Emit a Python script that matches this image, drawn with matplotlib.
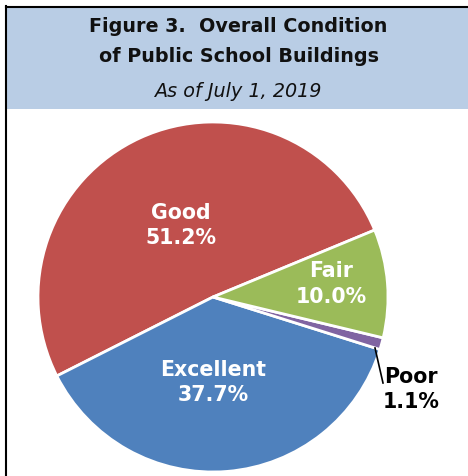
import matplotlib
matplotlib.use("Agg")
import matplotlib.pyplot as plt
from matplotlib.patches import Rectangle
from matplotlib.lines import Line2D

categories = ["Good", "Excellent", "Poor", "Fair"]
values = [51.2, 37.7, 1.1, 10.0]
colors = ["#C0504D", "#4F81BD", "#8064A2", "#9BBB59"]
label_text = ["Good\n51.2%", "Excellent\n37.7%", "Poor\n1.1%", "Fair\n10.0%"]

W, H = 468, 476
fig = plt.figure(figsize=(W / 100, H / 100), dpi=100)
fig.patch.set_facecolor("white")

def fx(px):
    return px / W

def fy(py):
    return 1 - py / H

# header box
fig.patches.append(Rectangle((fx(7), fy(109)), fx(468) - fx(7), fy(7) - fy(109),
                             transform=fig.transFigure, facecolor="#B9CDE5",
                             edgecolor="none", zorder=0))
# border lines
fig.add_artist(Line2D([fx(6), fx(6)], [fy(476), fy(6)], color="black", lw=1.5,
                      transform=fig.transFigure))
fig.add_artist(Line2D([fx(6), fx(468)], [fy(6.5), fy(6.5)], color="black", lw=1.5,
                      transform=fig.transFigure))

tfont = dict(ha="center", va="baseline", fontsize=13.8, family="DejaVu Sans",
             color="#111111")
fig.text(fx(238), fy(32), "Figure 3.  Overall Condition", fontweight="bold", **tfont)
fig.text(fx(239.5), fy(62), "of Public School Buildings", fontweight="bold", **tfont)
fig.text(fx(237.5), fy(97), "As of July 1, 2019", style="italic", **tfont)

# pie axes: center (213, 297), radius 175
cx, cy, r = 213, 297, 175
ax = fig.add_axes([fx(cx - r), fy(cy + r), 2 * r / W, 2 * r / H])
wedges, _ = ax.pie(values, colors=colors, startangle=22.5, counterclock=True,
                   wedgeprops=dict(edgecolor="white", linewidth=2.0))
ax.set_xlim(-1, 1)
ax.set_ylim(-1, 1)
ax.set_aspect("auto")
ax.axis("off")

def to_data(px, py):
    return ((px - cx) / r, (cy - py) / r)

lab_font = dict(family="DejaVu Sans", fontweight="bold", fontsize=14.8,
                ha="center", va="center", linespacing=1.36)
pos = {"Good": (181, 225.5), "Excellent": (213, 382.5), "Fair": (331, 284)}
for cat, txt in zip(categories, label_text):
    if cat in pos:
        x, y = to_data(*pos[cat])
        ax.text(x, y, txt, color="white", **lab_font)

x, y = to_data(411, 389.5)
ax.text(x, y, "Poor\n1.1%", color="black", clip_on=False, **lab_font)
p1 = to_data(375, 348)
p2 = to_data(383, 383)
ax.plot([p1[0], p2[0]], [p1[1], p2[1]], color="black", lw=1.2, clip_on=False)

fig.savefig("out.png", dpi=100)
